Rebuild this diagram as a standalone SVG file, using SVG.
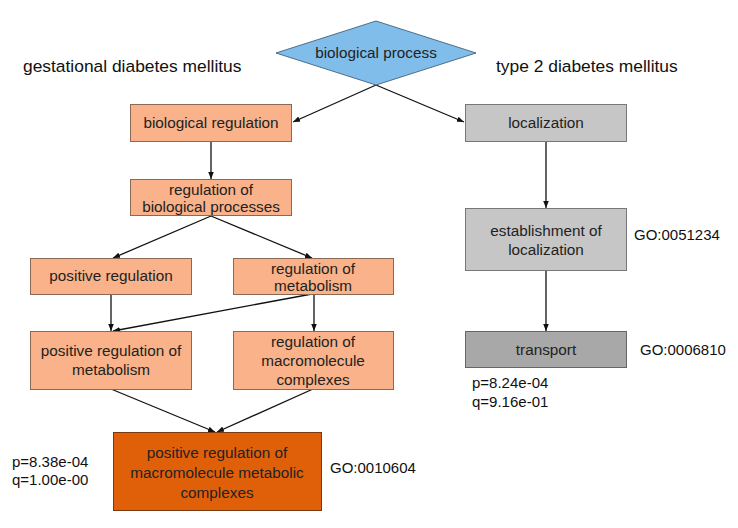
<svg xmlns="http://www.w3.org/2000/svg" width="738" height="528" viewBox="0 0 738 528">
<defs>
<marker id="ah" viewBox="0 0 10 10" refX="10" refY="5" markerWidth="7" markerHeight="7" orient="auto" markerUnits="userSpaceOnUse">
<path d="M0,1 L10,5 L0,9 z" fill="#111"/>
</marker>
<style>
.t{font-family:"Liberation Sans",Arial,sans-serif;font-size:15.3px;fill:#222;text-anchor:middle}
.l{font-family:"Liberation Sans",Arial,sans-serif;font-size:15px;fill:#111}
.h{font-family:"Liberation Sans",Arial,sans-serif;font-size:17.4px;fill:#111}
.peach{fill:#F9B289;stroke:#8a6a55;stroke-width:1}
.gray{fill:#C6C6C6;stroke:#777;stroke-width:1}
.dgray{fill:#A8A8A8;stroke:#666;stroke-width:1}
.c{stroke:#111;stroke-width:1.3;fill:none;marker-end:url(#ah)}
</style>
</defs>
<rect width="738" height="528" fill="#fff"/>
<text class="h" x="23" y="72">gestational diabetes mellitus</text>
<text class="h" x="496" y="72">type 2 diabetes mellitus</text>
<g id="connectors">
<line class="c" x1="376" y1="85" x2="293" y2="122"/>
<line class="c" x1="376" y1="85" x2="464" y2="122"/>
<line class="c" x1="211" y1="142" x2="211" y2="179"/>
<line class="c" x1="211" y1="216" x2="113" y2="258"/>
<line class="c" x1="211" y1="216" x2="312" y2="258"/>
<line class="c" x1="111" y1="294" x2="111" y2="331"/>
<line class="c" x1="312" y1="294" x2="113" y2="331"/>
<line class="c" x1="314" y1="294" x2="314" y2="331"/>
<line class="c" x1="111" y1="389" x2="215" y2="432"/>
<line class="c" x1="313" y1="389" x2="217" y2="432"/>
<line class="c" x1="546" y1="142" x2="546" y2="208"/>
<line class="c" x1="546" y1="271" x2="546" y2="331"/>
</g>
<g id="biological-process">
<polygon points="376,21 476,53 376,85 276,53" fill="#80BDEA" stroke="#4d6f8c" stroke-width="1"/>
<text class="t" x="376" y="58">biological process</text>
</g>
<g id="biological-regulation">
<rect class="peach" x="130.5" y="104.5" width="161" height="37"/>
<text class="t" x="211" y="128">biological regulation</text>
</g>
<g id="regulation-of-biological-processes">
<rect class="peach" x="130.5" y="179.5" width="161" height="36"/>
<text class="t" x="211" y="195">regulation of</text>
<text class="t" x="211" y="212">biological processes</text>
</g>
<g id="positive-regulation">
<rect class="peach" x="30.5" y="258.5" width="161" height="36"/>
<text class="t" x="111" y="281">positive regulation</text>
</g>
<g id="regulation-of-metabolism">
<rect class="peach" x="233.5" y="258.5" width="160" height="36"/>
<text class="t" x="313" y="274">regulation of</text>
<text class="t" x="313" y="291">metabolism</text>
</g>
<g id="positive-regulation-of-metabolism">
<rect class="peach" x="30.5" y="331.5" width="161" height="58"/>
<text class="t" x="111" y="356">positive regulation of</text>
<text class="t" x="111" y="375">metabolism</text>
</g>
<g id="regulation-of-macromolecule-complexes">
<rect class="peach" x="233.5" y="331.5" width="160" height="58"/>
<text class="t" x="313" y="347">regulation of</text>
<text class="t" x="313" y="366">macromolecule</text>
<text class="t" x="313" y="385">complexes</text>
</g>
<g id="positive-regulation-of-macromolecule-metabolic-complexes">
<rect x="113.5" y="432.5" width="208" height="78" fill="#E0600A" stroke="#7a3a10" stroke-width="1"/>
<text class="t" x="217" y="458">positive regulation of</text>
<text class="t" x="217" y="478">macromolecule metabolic</text>
<text class="t" x="217" y="498">complexes</text>
<text class="l" x="12" y="467">p=8.38e-04</text>
<text class="l" x="12" y="485">q=1.00e-00</text>
<text class="l" x="330" y="473">GO:0010604</text>
</g>
<g id="localization">
<rect class="gray" x="465.5" y="104.5" width="161" height="37"/>
<text class="t" x="546" y="128">localization</text>
</g>
<g id="establishment-of-localization">
<rect class="gray" x="465.5" y="208.5" width="161" height="62"/>
<text class="t" x="546" y="236">establishment of</text>
<text class="t" x="546" y="255">localization</text>
<text class="l" x="634" y="240">GO:0051234</text>
</g>
<g id="transport">
<rect class="dgray" x="465.5" y="331.5" width="161" height="36"/>
<text class="t" x="546" y="355">transport</text>
<text class="l" x="640" y="355">GO:0006810</text>
<text class="l" x="472" y="388">p=8.24e-04</text>
<text class="l" x="472" y="407">q=9.16e-01</text>
</g>
</svg>
